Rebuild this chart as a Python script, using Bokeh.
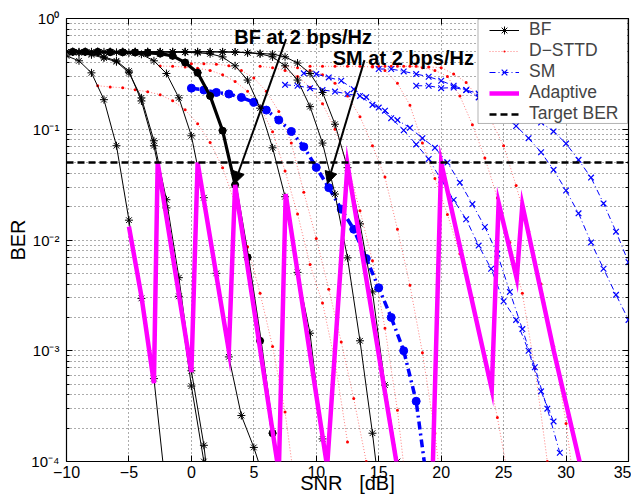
from bokeh.plotting import figure
from bokeh.models import (Range1d, FixedTicker, CustomJSTickFormatter, Legend, LegendItem,
                          BoxAnnotation, Label, Arrow, NormalHead, LogAxis, LinearAxis)
from bokeh.embed import file_html
from bokeh.resources import INLINE

FONT = "Liberation Sans"

# ---------------- data ----------------
x_ticks = [-10, -5, 0, 5, 10, 15, 20, 25, 30, 35]
y_major = [1e-4, 1e-3, 1e-2, 1e-1, 1]
y_minor = [m * d for d in (1e-4, 1e-3, 1e-2, 1e-1) for m in range(2, 10)]

target_x = [-10, 35]
target_y = [0.05, 0.05]

# BF (beamforming) curves
bf1_x = [-10, -9, -8, -7, -6, -5, -4, -3, -2]
bf1_y = [0.46, 0.415, 0.323, 0.185, 0.071, 0.0151, 0.00297, 5.6e-4, 5e-5]

bf2a_x = [-10, -9, -8, -7, -6, -5, -4, -3, -2, -1, 0, 1, 2]
bf2a_y = [0.5, 0.49, 0.47, 0.44, 0.407, 0.324, 0.192, 0.0787, 0.0231, 0.00457, 6.6e-4, 1.4e-4, 1.5e-5]
bf2b_x = [-10, -9, -8, -7, -6, -5, -4, -3, -2, -1, 0, 1, 2]
bf2b_y = [0.5, 0.495, 0.48, 0.45, 0.415, 0.335, 0.18, 0.071, 0.0195, 0.0031, 4.8e-4, 1.0e-4, 1e-5]

bf3_x = [-10, -9, -8, -7, -6, -5, -4, -3, -2, -1, 0, 1, 2, 3, 4, 5, 6]
bf3_y = [0.5, 0.5, 0.5, 0.5, 0.495, 0.49, 0.475, 0.415, 0.319, 0.192, 0.0873, 0.0241, 0.005,
         8.8e-4, 2.6e-4, 1.34e-4, 6e-5]

bf4_x = [-9.5, -8.5, -7.5, -6.5, -5.5, -4.5, -3.5, -2.5, -1.5, -0.5, 0.5, 1.5, 2.5, 3.5, 4.5, 5.5, 6.5]
bf4_y = [0.5, 0.5, 0.5, 0.497, 0.495, 0.493, 0.49, 0.482, 0.46, 0.40, 0.324, 0.20, 0.097, 0.0315,
         0.00697, 0.00123, 1.8e-4]

bf5_x = [-9.5, -8.5, -7.5, -6.5, -5.5, -4.5, -3.5, -2.5, -1.5, -0.5, 0.5, 1.5, 2.5, 3.5, 4.5, 5.5,
         6.5, 7.5, 8.5, 9.5, 10.5, 11.5]
bf5_y = [0.5, 0.5, 0.5, 0.5, 0.5, 0.5, 0.5, 0.498, 0.497, 0.495, 0.49, 0.48, 0.45, 0.374, 0.278,
         0.155, 0.068, 0.0246, 0.0051, 0.00144, 1.6e-4, 2e-5]

bf6_x = [-9.5, -8.5, -7.5, -6.5, -5.5, -4.5, -3.5, -2.5, -1.5, -0.5, 0.5, 1.5, 2.5, 3.5, 4.5, 5.5,
         6.5, 7.5, 8.5, 9.5, 10.5, 11.5, 12.5, 13.5, 14.5, 15.5]
bf6_y = [0.5, 0.5, 0.5, 0.5, 0.5, 0.5, 0.5, 0.5, 0.5, 0.5, 0.5, 0.5, 0.499, 0.498, 0.49, 0.48,
         0.45, 0.374, 0.278, 0.16, 0.075, 0.026, 0.0069, 0.00123, 1.8e-4, 2e-5]

bf7_x = [-9.5, -8.5, -7.5, -6.5, -5.5, -4.5, -3.5, -2.5, -1.5, -0.5, 0.5, 1.5, 2.5, 3.5, 4.5, 5.5,
         6.5, 7.5, 8.5, 9.5, 10.5, 11.5, 12.5, 13.5, 14.5, 15.5, 16.5, 17.5]
bf7_y = [0.5, 0.5, 0.5, 0.5, 0.5, 0.5, 0.5, 0.5, 0.5, 0.5, 0.5, 0.5, 0.499, 0.497, 0.493, 0.483,
         0.477, 0.451, 0.396, 0.319, 0.215, 0.111, 0.045, 0.014, 0.0034, 4.9e-4, 1e-4, 1e-5]

# D-STTD curves
d1_x = [-7.5, -6.5, -5.5, -4.5, -3.5, -2.5, -1.5, -0.5, 0.5, 1.5, 2.5, 3.5, 4.5, 5.5, 6.5, 7.5, 8.5]
d1_y = [0.247, 0.241, 0.237, 0.227, 0.218, 0.205, 0.181, 0.15, 0.112, 0.076, 0.045, 0.0212, 0.0087,
        0.0033, 0.00109, 2.8e-4, 4e-5]
d2_x = [-2.5, -1.5, -0.5, 0.5, 1.5, 2.5, 3.5, 4.5, 5.5, 6.5, 7.5, 8.5, 9.5, 10.5, 11.5, 12.5]
d2_y = [0.372, 0.37, 0.365, 0.355, 0.34, 0.31, 0.27, 0.22, 0.16, 0.095, 0.042, 0.0172, 0.006,
        0.0027, 8e-4, 1.5e-4]
d3_x = [0, 1, 2, 3, 4, 5, 6, 7, 8, 9, 10, 11, 12, 13, 14]
d3_y = [0.39, 0.39, 0.387, 0.374, 0.34, 0.29, 0.22, 0.145, 0.075, 0.027, 0.0103, 0.0036, 0.0012,
        3.7e-4, 1e-4]
d4_x = [5.5, 6.5, 7.5, 8.5, 9.5, 10.5, 11.5, 12.5, 13.5, 14.5, 15.5, 16.5, 17.5]
d4_y = [0.37, 0.36, 0.34, 0.3, 0.24, 0.17, 0.1, 0.048, 0.0184, 0.0065, 0.0016, 2.9e-4, 3e-5]
d5_x = [7.5, 8.5, 9.5, 10.5, 11.5, 12.5, 13.5, 14.5, 15.5, 16.5, 17.5, 18.5, 19.5, 20.5]
d5_y = [0.37, 0.36, 0.34, 0.31, 0.26, 0.2, 0.13, 0.071, 0.037, 0.0125, 0.0039, 9.6e-4, 1.8e-4, 2e-5]
d6_x = [9.5, 10.5, 11.5, 12.5, 13.5, 14.5, 15.5, 16.5, 17.5, 18.5, 19.5, 20.5, 21.5, 22.5, 23.5,
        24.5, 25.5]
d6_y = [0.37, 0.37, 0.37, 0.37, 0.37, 0.365, 0.34, 0.26, 0.165, 0.075, 0.036, 0.017, 0.0075,
        0.003, 9e-4, 2.5e-4, 6e-5]
d7_x = [14.5, 15.5, 16.5, 17.5, 18.5, 19.5, 20.5, 21.5, 22.5, 23.5, 24.5, 25.5, 26.5, 27.5, 28.5]
d7_y = [0.37, 0.37, 0.37, 0.37, 0.36, 0.34, 0.3, 0.2, 0.11, 0.055, 0.024, 0.0095, 0.0033, 7e-4,
        1e-4]
d8_x = [15, 16, 17, 18, 19, 20, 21, 22, 23, 24, 25, 26, 27, 28, 29, 30, 31]
d8_y = [0.37, 0.37, 0.37, 0.37, 0.365, 0.36, 0.315, 0.265, 0.19, 0.12, 0.071, 0.031, 0.012, 0.004,
        0.0011, 2.2e-4, 3e-5]

# SM curves
sm1_x = [7.5, 8.5, 9.5, 10.5, 11.5, 12.5, 13.5, 14.5, 15.5, 16.5, 17.5, 18.5, 19.5, 20.5, 21.5,
         22.5, 23.5, 24.5, 25.5, 26.5, 27.5, 28.5, 29.5]
sm1_y = [0.252, 0.247, 0.235, 0.226, 0.219, 0.208, 0.2, 0.166, 0.147, 0.121, 0.103, 0.083, 0.068,
         0.05, 0.033, 0.0211, 0.0131, 0.0075, 0.0034, 0.00157, 7.1e-4, 3e-4, 1.2e-4]
sm2_x = [9, 10, 11, 12, 13, 14, 15, 16, 17, 18, 19, 20, 21, 22, 23, 24, 25, 26, 27, 28, 29]
sm2_y = [0.32, 0.315, 0.294, 0.274, 0.23, 0.195, 0.157, 0.126, 0.098, 0.073, 0.054, 0.035, 0.023,
         0.0154, 0.0089, 0.0055, 0.0028, 0.0019, 1e-3, 4.3e-4, 2.3e-4]
sm3_x = [15, 16, 17, 18, 19, 20, 21, 22, 23, 24, 25, 26, 27, 28, 29, 30, 31, 32, 33, 34, 35]
sm3_y = [0.35, 0.35, 0.333, 0.315, 0.298, 0.274, 0.247, 0.226, 0.194, 0.16, 0.132, 0.107, 0.083,
         0.062, 0.043, 0.028, 0.0174, 0.0095, 0.0055, 0.0032, 0.0019]
sm4_x = [18, 19, 20, 21, 22, 23, 24, 25, 26, 27, 28, 29, 30, 31, 32, 33, 34, 35]
sm4_y = [0.247, 0.247, 0.235, 0.238, 0.226, 0.21, 0.19, 0.17, 0.15, 0.13, 0.115, 0.0956, 0.0742,
         0.0529, 0.0366, 0.0214, 0.0119, 0.0063]

# highlighted curves at 2 bps/Hz
smb_x = [0, 1, 2, 3, 4, 5, 6, 7, 8, 9, 10, 11, 12, 13, 14, 15, 16, 17, 18, 19]
smb_y = [0.235, 0.226, 0.215, 0.208, 0.194, 0.175, 0.149, 0.121, 0.0955, 0.0694, 0.0452, 0.0297,
         0.019, 0.0125, 0.0068, 0.0037, 0.002, 0.001, 3.5e-4, 5e-5]

# adaptive scheme
ad_x = [-5, -4, -3, -2.7, 0, 0.5, 3.0, 3.5, 7.0, 7.55, 10.87, 12.5, 16.8, 19.27, 20.0, 24.05, 24.6,
        26.05, 26.5, 29.05, 31.4]
ad_y = [0.0132, 0.0031, 5.1e-4, 0.05, 6.4e-4, 0.05, 1.0e-3, 0.0315, 8e-5, 0.026, 9e-5, 0.048,
        5.4e-5, 5.1e-5, 0.05, 4.5e-4, 0.0217, 0.0045, 0.0208, 9.6e-4, 7e-5]

# ---------------- figure ----------------
p = figure(width=631, height=498, x_range=Range1d(-10, 35), y_range=Range1d(1e-4, 1),
           y_axis_type="log", output_backend="svg", toolbar_location=None,
           min_border_left=66, min_border_right=3, min_border_top=18, min_border_bottom=37)
p.outline_line_color = "black"
p.outline_line_width = 1.2
p.background_fill_color = "white"
p.border_fill_color = "white"

xa = p.xaxis[0]
xa.ticker = FixedTicker(ticks=x_ticks, minor_ticks=[])
xa.formatter = CustomJSTickFormatter(code="return (tick < 0 ? '\u2212' : '') + Math.abs(tick);")
ya = p.yaxis[0]
ya.ticker = FixedTicker(ticks=y_major, minor_ticks=y_minor)
ya.formatter = CustomJSTickFormatter(code="""
const sup = {'-':'\u207b','0':'\u2070','1':'\u00b9','2':'\u00b2','3':'\u00b3','4':'\u2074',
             '5':'\u2075','6':'\u2076','7':'\u2077','8':'\u2078','9':'\u2079'};
const e = Math.round(Math.log10(tick));
return '10' + String(e).split('').map(c => sup[c]).join('');
""")
xa2 = LinearAxis(ticker=FixedTicker(ticks=x_ticks, minor_ticks=[]))
ya2 = LogAxis(ticker=FixedTicker(ticks=y_major, minor_ticks=y_minor))
for ax in (xa, ya, xa2, ya2):
    ax.axis_line_color = None
    ax.major_tick_in = 6
    ax.major_tick_out = 0
    ax.minor_tick_in = 3
    ax.minor_tick_out = 0
    ax.major_tick_line_color = "black"
    ax.minor_tick_line_color = "black"
    ax.major_label_text_font = FONT
    ax.major_label_text_color = "black"
xa.major_label_text_font_size = "16px"
ya.major_label_text_font_size = "15px"
xa.major_label_standoff = 4
ya.major_label_standoff = 7
for ax in (xa2, ya2):
    ax.major_label_text_font_size = "0px"
    ax.major_label_standoff = 0
    ax.major_label_text_color = None
p.add_layout(xa2, "above")
p.add_layout(ya2, "right")

xa.axis_label = "SNR\u00a0\u00a0\u00a0[dB]"
xa.axis_label_text_font = FONT
xa.axis_label_text_font_size = "20px"
xa.axis_label_text_font_style = "normal"
xa.axis_label_text_color = "black"
xa.axis_label_standoff = -9
ya.axis_label = "BER"
ya.axis_label_text_font = FONT
ya.axis_label_text_font_size = "20px"
ya.axis_label_text_font_style = "normal"
ya.axis_label_text_color = "black"
ya.axis_label_standoff = -1

for g in (p.xgrid[0], p.ygrid[0]):
    g.grid_line_color = "black"
    g.grid_line_alpha = 0.65
    g.grid_line_dash = "1 3"
    g.grid_line_width = 1
p.ygrid[0].minor_grid_line_color = "black"
p.ygrid[0].minor_grid_line_alpha = 0.65
p.ygrid[0].minor_grid_line_dash = "1 3"

# D-STTD (red dotted, small dots)
d_series = [(d1_x, d1_y), (d2_x, d2_y), (d3_x, d3_y), (d4_x, d4_y), (d5_x, d5_y), (d6_x, d6_y),
            (d7_x, d7_y), (d8_x, d8_y)]
d_rend = []
for xs, ys in d_series:
    rl = p.line(xs, ys, line_color="red", line_width=1, line_dash="1 2", line_alpha=0.5)
    rs = p.scatter(xs, ys, marker="dot", size=12, fill_color="red", line_color="red")
    d_rend.append((rl, rs))

# SM (blue dash-dot with x)
sm_series = [(sm1_x, sm1_y), (sm2_x, sm2_y), (sm3_x, sm3_y), (sm4_x, sm4_y)]
sm_rend = []
for xs, ys in sm_series:
    rl = p.line(xs, ys, line_color="blue", line_width=1, line_dash="6 3 1 3")
    rs = p.scatter(xs, ys, marker="x", size=8, line_color="blue", line_width=1.2)
    sm_rend.append((rl, rs))

# SM at 2 bps/Hz (thick)
p.line(smb_x, smb_y, line_color="blue", line_width=3.5, line_dash="8 4 2 4")
p.scatter(smb_x, smb_y, marker="circle", size=8, fill_color="blue", line_color="blue")

# BF curves (black with asterisks)
bf_series = [(bf1_x, bf1_y), (bf2a_x, bf2a_y), (bf2b_x, bf2b_y), (bf3_x, bf3_y), (bf5_x, bf5_y),
             (bf6_x, bf6_y), (bf7_x, bf7_y), (bf4_x, bf4_y)]
bf_rend = []
for xs, ys in bf_series:
    rl = p.line(xs, ys, line_color="black", line_width=1)
    rs = p.scatter(xs, ys, marker="asterisk", size=8, line_color="black", line_width=1)
    bf_rend.append((rl, rs))

# BF at 2 bps/Hz (thick)
p.line(bf4_x, bf4_y, line_color="black", line_width=3.2)
p.scatter(bf4_x, bf4_y, marker="circle", size=7, fill_color="black", line_color="black")

# Adaptive
r_ad = p.line(ad_x, ad_y, line_color="#ff00ff", line_width=4.5, line_join="miter")

# Target BER
r_tg = p.line(target_x, target_y, line_color="black", line_width=2.5, line_dash="7 4")

# annotations
p.add_layout(Label(x=3.43, y=0.676, text="BF at 2 bps/Hz", text_font=FONT, text_font_size="20px",
                   text_font_style="bold", text_color="black", text_baseline="alphabetic"))
p.add_layout(Label(x=11.32, y=0.442, text="SM at 2 bps/Hz", text_font=FONT, text_font_size="20px",
                   text_font_style="bold", text_color="black", text_baseline="alphabetic"))
p.add_layout(Arrow(x_start=7.58, y_start=0.652, x_end=3.45, y_end=0.0322, line_width=2,
                   end=NormalHead(size=12, fill_color="black", line_color="black")))
p.add_layout(Arrow(x_start=13.86, y_start=0.421, x_end=10.9, y_end=0.0322, line_width=2,
                   end=NormalHead(size=12, fill_color="black", line_color="black")))

# legend
p.add_layout(BoxAnnotation(left=22.95, right=34.92, top=0.9877, bottom=0.1128, fill_color="white",
                           fill_alpha=1, line_color="black", line_width=1))
leg = Legend(items=[
    LegendItem(label="BF", renderers=list(bf_rend[0])),
    LegendItem(label="D\u2212STTD", renderers=list(d_rend[0])),
    LegendItem(label="SM", renderers=list(sm_rend[0])),
    LegendItem(label="Adaptive", renderers=[r_ad]),
    LegendItem(label="Target BER", renderers=[r_tg]),
], location="top_right", margin=1, padding=2, spacing=0, glyph_width=30, glyph_height=20,
    label_height=20, label_width=98, label_standoff=10, label_text_font=FONT,
    label_text_font_size="17.5px", border_line_color=None, background_fill_alpha=0)
p.add_layout(leg)

open("out.html", "w").write(file_html(p, INLINE))
